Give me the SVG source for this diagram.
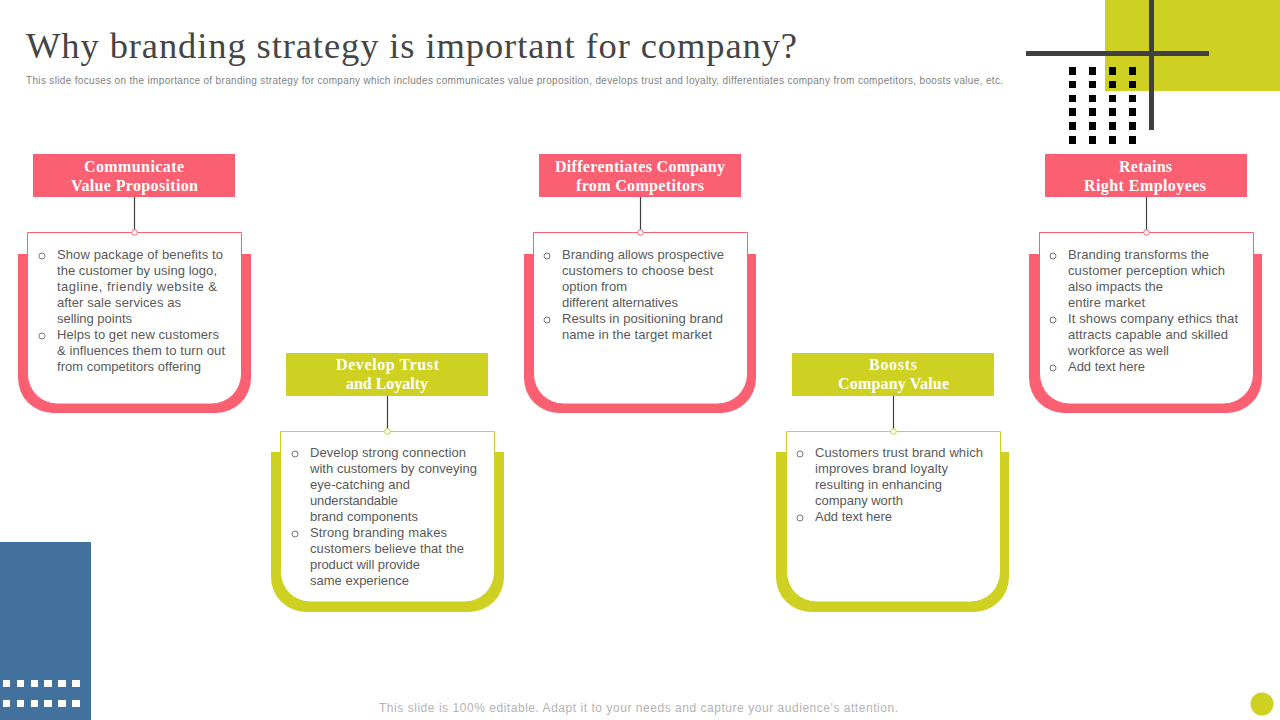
<svg xmlns="http://www.w3.org/2000/svg" width="1280" height="720" viewBox="0 0 1280 720">
<style>
.title{font:36.500px "Liberation Serif",serif;fill:#454545}
.sub{font:10px "Liberation Sans",Arial,sans-serif;fill:#7f7f7f}
.foot{font:12px "Liberation Sans",Arial,sans-serif;fill:#b3b3b3}
.hd{font:bold 16px "Liberation Serif",serif;fill:#fff;text-anchor:middle}
.b{font:13px "Liberation Sans",Arial,sans-serif;fill:#595959}
.bu{fill:none;stroke:#777;stroke-width:1}
.cn{stroke:#404040;stroke-width:1.200;fill:none}
.pink{fill:#fb6072}.olive{fill:#ced122}
.cp{fill:#fff;stroke:#fb6072;stroke-width:1}.co{fill:#fff;stroke:#ced122;stroke-width:1}
.bar{fill:#404040}
</style>
<rect width="1280" height="720" fill="#fff"/>
<g id="decor">
<rect x="1105" y="0" width="175" height="91" fill="#ced122"/>
<rect x="0" y="542" width="91" height="178" fill="#41719c"/>
<circle cx="1262" cy="704" r="11.500" fill="#ced122"/>
<g fill="#000"><rect x="1069" y="67" width="7" height="8"/><rect x="1089" y="67" width="7" height="8"/><rect x="1109" y="67" width="7" height="8"/><rect x="1129" y="67" width="7" height="8"/><rect x="1069" y="81" width="7" height="7"/><rect x="1089" y="81" width="7" height="7"/><rect x="1109" y="81" width="7" height="7"/><rect x="1129" y="81" width="7" height="7"/><rect x="1069" y="95" width="7" height="7"/><rect x="1089" y="95" width="7" height="7"/><rect x="1109" y="95" width="7" height="7"/><rect x="1129" y="95" width="7" height="7"/><rect x="1069" y="108" width="7" height="8"/><rect x="1089" y="108" width="7" height="8"/><rect x="1109" y="108" width="7" height="8"/><rect x="1129" y="108" width="7" height="8"/><rect x="1069" y="122" width="7" height="8"/><rect x="1089" y="122" width="7" height="8"/><rect x="1109" y="122" width="7" height="8"/><rect x="1129" y="122" width="7" height="8"/><rect x="1069" y="136" width="7" height="8"/><rect x="1089" y="136" width="7" height="8"/><rect x="1109" y="136" width="7" height="8"/><rect x="1129" y="136" width="7" height="8"/></g>
<rect class="bar" x="1026" y="51" width="183" height="5"/>
<rect class="bar" x="1149" y="0" width="5" height="130"/>
<g fill="#fff"><rect x="3" y="680" width="7" height="7"/><rect x="17" y="680" width="7" height="7"/><rect x="31" y="680" width="7" height="7"/><rect x="44" y="680" width="8" height="7"/><rect x="58" y="680" width="8" height="7"/><rect x="72" y="680" width="8" height="7"/><rect x="3" y="700" width="7" height="7"/><rect x="17" y="700" width="7" height="7"/><rect x="31" y="700" width="7" height="7"/><rect x="44" y="700" width="8" height="7"/><rect x="58" y="700" width="8" height="7"/><rect x="72" y="700" width="8" height="7"/></g>
</g>
<g id="heading">
<text class="title" x="26" y="58" textLength="771" lengthAdjust="spacing">Why branding strategy is important for company?</text>
<text class="sub" x="26" y="84" textLength="977" lengthAdjust="spacing">This slide focuses on the importance of branding strategy for company which includes communicates value proposition, develops trust and loyalty, differentiates company from competitors, boosts value, etc.</text>
<text class="foot" x="379" y="711.500" textLength="519" lengthAdjust="spacing">This slide is 100% editable. Adapt it to your needs and capture your audience's attention.</text>
</g>
<g id="connectors">
<line class="cn" x1="134.500" y1="197" x2="134.500" y2="232"/>
<line class="cn" x1="387.500" y1="396" x2="387.500" y2="431"/>
<line class="cn" x1="640.500" y1="197" x2="640.500" y2="232"/>
<line class="cn" x1="893.500" y1="396" x2="893.500" y2="431"/>
<line class="cn" x1="1146.500" y1="197" x2="1146.500" y2="232"/>
</g>
<g id="node-communicate">
<path class="pink" d="M18 254H251V378A35 35 0 0 1 216 413H53A35 35 0 0 1 18 378Z"/>
<path class="cp" d="M27.500 232.500H241.500V374A30 30 0 0 1 211.500 404H57.500A30 30 0 0 1 27.500 374Z"/>
<circle class="cp" cx="134.500" cy="232.500" r="2.800"/>
<rect class="pink" x="33" y="154" width="202" height="43"/>
<text class="hd" x="134" y="172" textLength="100">Communicate</text><text class="hd" x="134.500" y="191" textLength="127">Value Proposition</text>
<circle class="bu" cx="42" cy="256" r="3"/><circle class="bu" cx="42" cy="336" r="3"/>
<text class="b" x="57" y="259" textLength="166">Show package of benefits to</text>
<text class="b" x="57" y="275" textLength="160">the customer by using logo,</text>
<text class="b" x="57" y="291" textLength="160">tagline, friendly website &amp;</text>
<text class="b" x="57" y="307" textLength="124">after sale services as</text>
<text class="b" x="57" y="323" textLength="75">selling points</text>
<text class="b" x="57" y="339" textLength="162">Helps to get new customers</text>
<text class="b" x="57" y="355" textLength="168">&amp; influences them to turn out</text>
<text class="b" x="57" y="371" textLength="144">from competitors offering</text>
</g>
<g id="node-trust">
<path class="olive" d="M271 452H504V577A35 35 0 0 1 469 612H306A35 35 0 0 1 271 577Z"/>
<path class="co" d="M280.500 431.500H494.500V572A30 30 0 0 1 464.500 602H310.500A30 30 0 0 1 280.500 572Z"/>
<circle class="co" cx="387.500" cy="431.500" r="2.800"/>
<rect class="olive" x="286" y="353" width="202" height="43"/>
<text class="hd" x="387.500" y="370" textLength="103">Develop Trust</text><text class="hd" x="387" y="389" textLength="82">and Loyalty</text>
<circle class="bu" cx="295" cy="454" r="3"/><circle class="bu" cx="295" cy="534" r="3"/>
<text class="b" x="310" y="457" textLength="156">Develop strong connection</text>
<text class="b" x="310" y="473" textLength="167">with customers by conveying</text>
<text class="b" x="310" y="489" textLength="100">eye-catching and</text>
<text class="b" x="310" y="505" textLength="88">understandable</text>
<text class="b" x="310" y="521" textLength="108">brand components</text>
<text class="b" x="310" y="537" textLength="137">Strong branding makes</text>
<text class="b" x="310" y="553" textLength="154">customers believe that the</text>
<text class="b" x="310" y="569" textLength="110">product will provide</text>
<text class="b" x="310" y="585" textLength="99">same experience</text>
</g>
<g id="node-differentiates">
<path class="pink" d="M524 254H756V378A35 35 0 0 1 721 413H559A35 35 0 0 1 524 378Z"/>
<path class="cp" d="M533.500 232.500H747.500V374A30 30 0 0 1 717.500 404H563.500A30 30 0 0 1 533.500 374Z"/>
<circle class="cp" cx="640.500" cy="232.500" r="2.800"/>
<rect class="pink" x="539" y="154" width="202" height="43"/>
<text class="hd" x="640" y="172" textLength="170">Differentiates Company</text><text class="hd" x="640" y="191" textLength="128">from Competitors</text>
<circle class="bu" cx="547" cy="256" r="3"/><circle class="bu" cx="547" cy="320" r="3"/>
<text class="b" x="562" y="259" textLength="162">Branding allows prospective</text>
<text class="b" x="562" y="275" textLength="151">customers to choose best</text>
<text class="b" x="562" y="291" textLength="65">option from</text>
<text class="b" x="562" y="307" textLength="116">different alternatives</text>
<text class="b" x="562" y="323" textLength="161">Results in positioning brand</text>
<text class="b" x="562" y="339" textLength="150">name in the target market</text>
</g>
<g id="node-boosts">
<path class="olive" d="M776 452H1009V577A35 35 0 0 1 974 612H811A35 35 0 0 1 776 577Z"/>
<path class="co" d="M786.500 431.500H1000.500V572A30 30 0 0 1 970.500 602H816.500A30 30 0 0 1 786.500 572Z"/>
<circle class="co" cx="893.500" cy="431.500" r="2.800"/>
<rect class="olive" x="792" y="353" width="202" height="43"/>
<text class="hd" x="893" y="370" textLength="48">Boosts</text><text class="hd" x="893.500" y="389" textLength="111">Company Value</text>
<circle class="bu" cx="800" cy="454" r="3"/><circle class="bu" cx="800" cy="518" r="3"/>
<text class="b" x="815" y="457" textLength="168">Customers trust brand which</text>
<text class="b" x="815" y="473" textLength="133">improves brand loyalty</text>
<text class="b" x="815" y="489" textLength="127">resulting in enhancing</text>
<text class="b" x="815" y="505" textLength="88">company worth</text>
<text class="b" x="815" y="521" textLength="77">Add text here</text>
</g>
<g id="node-retains">
<path class="pink" d="M1029 254H1262V378A35 35 0 0 1 1227 413H1064A35 35 0 0 1 1029 378Z"/>
<path class="cp" d="M1039.500 232.500H1253.500V374A30 30 0 0 1 1223.500 404H1069.500A30 30 0 0 1 1039.500 374Z"/>
<circle class="cp" cx="1146.500" cy="232.500" r="2.800"/>
<rect class="pink" x="1045" y="154" width="202" height="43"/>
<text class="hd" x="1145.500" y="172" textLength="53">Retains</text><text class="hd" x="1145" y="191" textLength="122">Right Employees</text>
<circle class="bu" cx="1053" cy="256" r="3"/><circle class="bu" cx="1053" cy="320" r="3"/><circle class="bu" cx="1053" cy="368" r="3"/>
<text class="b" x="1068" y="259" textLength="141">Branding transforms the</text>
<text class="b" x="1068" y="275" textLength="157">customer perception which</text>
<text class="b" x="1068" y="291" textLength="95">also impacts the</text>
<text class="b" x="1068" y="307" textLength="77">entire market</text>
<text class="b" x="1068" y="323" textLength="170">It shows company ethics that</text>
<text class="b" x="1068" y="339" textLength="160">attracts capable and skilled</text>
<text class="b" x="1068" y="355" textLength="101">workforce as well</text>
<text class="b" x="1068" y="371" textLength="77">Add text here</text>
</g>
</svg>
